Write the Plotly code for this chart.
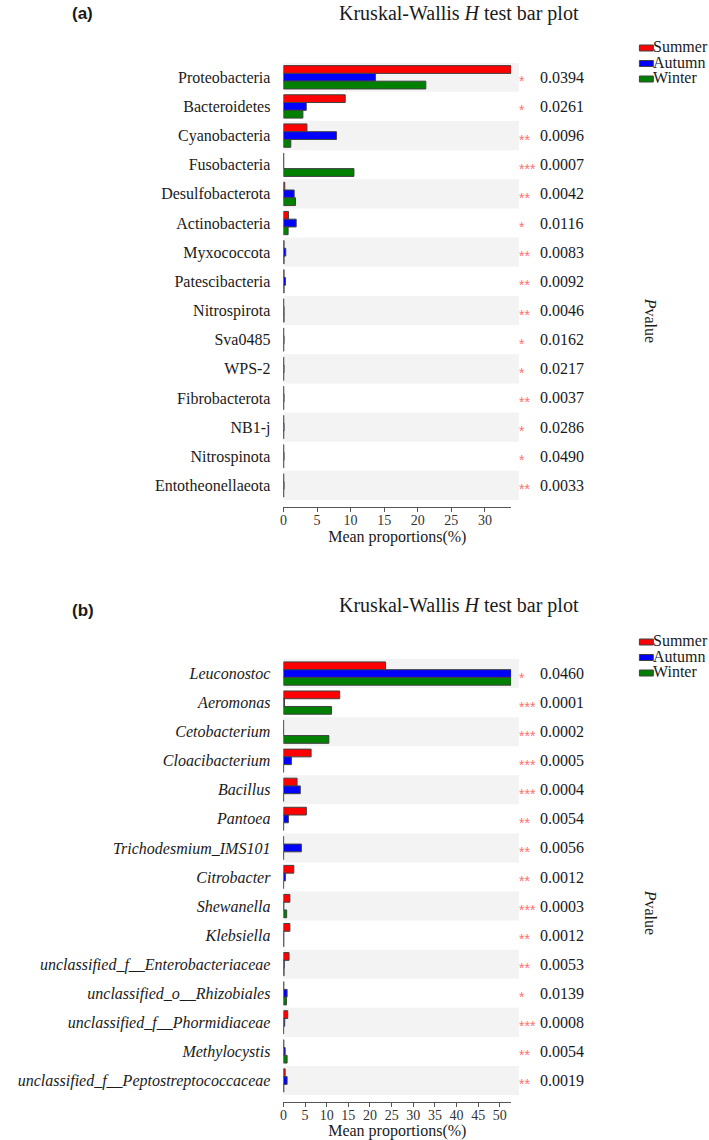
import plotly.graph_objects as go

W, H = 709, 1140

# ---------------- Panel (a) data ----------------
phyla = ["Proteobacteria", "Bacteroidetes", "Cyanobacteria", "Fusobacteria",
         "Desulfobacterota", "Actinobacteria", "Myxococcota", "Patescibacteria",
         "Nitrospirota", "Sva0485", "WPS-2", "Fibrobacterota", "NB1-j",
         "Nitrospinota", "Entotheonellaeota"]
summer_a = [33.9, 9.2, 3.5, 0.05, 0.2, 0.75, 0.1, 0.1, 0.05, 0.05, 0.05, 0.05, 0.05, 0.05, 0.05]
autumn_a = [13.7, 3.4, 7.9, 0.05, 1.6, 1.9, 0.35, 0.3, 0.1, 0.1, 0.1, 0.1, 0.1, 0.1, 0.1]
winter_a = [21.2, 2.9, 1.1, 10.5, 1.8, 0.7, 0.1, 0.1, 0.1, 0.05, 0.05, 0.05, 0.05, 0.05, 0.05]
pvals_a = ["0.0394", "0.0261", "0.0096", "0.0007", "0.0042", "0.0116", "0.0083",
           "0.0092", "0.0046", "0.0162", "0.0217", "0.0037", "0.0286", "0.0490", "0.0033"]
stars_a = ["*", "*", "**", "***", "**", "*", "**", "**", "**", "*", "*", "**", "*", "*", "**"]

# ---------------- Panel (b) data ----------------
genera = ["Leuconostoc", "Aeromonas", "Cetobacterium", "Cloacibacterium", "Bacillus",
          "Pantoea", "Trichodesmium_IMS101", "Citrobacter", "Shewanella", "Klebsiella",
          "unclassified_f__Enterobacteriaceae", "unclassified_o__Rhizobiales",
          "unclassified_f__Phormidiaceae", "Methylocystis",
          "unclassified_f__Peptostreptococcaceae"]
summer_b = [23.6, 13.0, 0.05, 6.4, 3.15, 5.3, 0.05, 2.4, 1.5, 1.5, 1.3, 0.1, 1.0, 0.1, 0.4]
autumn_b = [52.6, 0.25, 0.05, 1.85, 3.9, 1.15, 4.15, 0.45, 0.1, 0.1, 0.2, 0.85, 0.3, 0.4, 0.85]
winter_b = [52.6, 11.1, 10.5, 0.05, 0.05, 0.05, 0.05, 0.05, 0.75, 0.1, 0.15, 0.7, 0.05, 0.85, 0.1]
pvals_b = ["0.0460", "0.0001", "0.0002", "0.0005", "0.0004", "0.0054", "0.0056",
           "0.0012", "0.0003", "0.0012", "0.0053", "0.0139", "0.0008", "0.0054", "0.0019"]
stars_b = ["*", "***", "***", "***", "***", "**", "**", "**", "***", "**", "**", "*", "***", "**", "**"]

seasons = ["Summer", "Autumn", "Winter"]
colors = ["#ff0000", "#0000ff", "#008000"]

SERIF = "Liberation Serif"
SANS = "Liberation Sans"
OUTLINE = "#404040"

fig = go.Figure()

panels = [
    (phyla, [summer_a, autumn_a, winter_a], "x", "y"),
    (genera, [summer_b, autumn_b, winter_b], "x2", "y2"),
]
for cats, series, xa, ya in panels:
    for name, vals, col in zip(seasons, series, colors):
        fig.add_trace(go.Bar(
            y=cats, x=vals, name=name, orientation="h",
            marker=dict(color=col, line=dict(color=OUTLINE, width=1)),
            xaxis=xa, yaxis=ya, showlegend=False,
        ))

def px_x(p):
    return p / W

def px_y(p):
    return 1 - p / H

shapes = []
annotations = []

def add_panel_decor(cats, pvals, stars, yref, xdomref):
    for i, (c, p, s) in enumerate(zip(cats, pvals, stars)):
        if i % 2 == 0:
            shapes.append(dict(type="rect", xref=xdomref, yref=yref,
                               x0=0, x1=1.034, y0=i - 0.5, y1=i + 0.5,
                               fillcolor="#f3f3f3", line=dict(width=0), layer="below"))
        annotations.append(dict(x=px_x(516), xref="paper", y=c, yref=yref,
                                text=s, showarrow=False, xanchor="left", yanchor="middle",
                                yshift=-4, font=dict(family=SANS, size=14, color="#ff6f6f")))
        annotations.append(dict(x=px_x(537), xref="paper", y=c, yref=yref,
                                text=p, showarrow=False, xanchor="left", yanchor="middle",
                                font=dict(family=SERIF, size=16, color="#1a1a1a")))

add_panel_decor(phyla, pvals_a, stars_a, "y", "x domain")
add_panel_decor(genera, pvals_b, stars_b, "y2", "x2 domain")

# titles, panel letters, P value labels, legends
for ty, ly, lab, py, leg_top in [(13, 13, "(a)", 320, 46), (605, 610, "(b)", 912, 640)]:
    annotations.append(dict(x=px_x(458), y=px_y(ty), xref="paper", yref="paper",
                            text="Kruskal-Wallis <i>H</i> test bar plot", showarrow=False,
                            xanchor="center", yanchor="middle",
                            font=dict(family=SERIF, size=20, color="#1a1a1a")))
    annotations.append(dict(x=px_x(79), y=px_y(ly), xref="paper", yref="paper",
                            text="<b>" + lab + "</b>", showarrow=False,
                            xanchor="center", yanchor="middle",
                            font=dict(family=SANS, size=17, color="#1a1a1a")))
    annotations.append(dict(x=px_x(651), y=px_y(py), xref="paper", yref="paper",
                            text="<i>P</i>value", showarrow=False, textangle=90,
                            xanchor="center", yanchor="middle",
                            font=dict(family=SERIF, size=16, color="#1a1a1a")))
    for k, (name, col) in enumerate(zip(seasons, colors)):
        yc = leg_top + k * 15.5
        shapes.append(dict(type="rect", xref="paper", yref="paper",
                           x0=px_x(639), x1=px_x(653), y0=px_y(yc + 5), y1=px_y(yc - 1),
                           fillcolor=col, line=dict(color=OUTLINE, width=1)))
        annotations.append(dict(x=px_x(653), y=px_y(yc), xref="paper", yref="paper",
                                text=name, showarrow=False, xanchor="left", yanchor="middle",
                                xshift=-1, height=14, borderpad=0,
                                font=dict(family=SERIF, size=16, color="#1a1a1a")))

xdom = [px_x(281), px_x(510)]

def xaxis_cfg(rng, anchor):
    return dict(domain=xdom, range=rng, anchor=anchor, showline=True, linecolor="#555555",
                linewidth=1, ticks="outside", ticklen=4, tickcolor="#555555", dtick=5,
                showgrid=False, zeroline=False, ticklabelstandoff=-4,
                tickfont=dict(family=SERIF, size=14, color="#333333"),
                title=dict(text="Mean proportions(%)", standoff=2,
                           font=dict(family=SERIF, size=16, color="#1a1a1a")))

def yaxis_cfg(dom, cats, anchor, italic):
    tf = dict(family=SERIF, size=16, color="#1a1a1a")
    if italic:
        tf["style"] = "italic"
    return dict(domain=dom, anchor=anchor, type="category", categoryorder="array",
                categoryarray=cats, range=[14.74, -0.5], autorange=False,
                showline=False, ticks="", showgrid=False, zeroline=False,
                ticklabelstandoff=12, tickfont=tf)

fig.update_layout(
    width=W, height=H,
    margin=dict(l=0, r=0, t=0, b=0),
    paper_bgcolor="white", plot_bgcolor="rgba(0,0,0,0)",
    barmode="group", bargap=0.2, bargroupgap=0,
    xaxis=xaxis_cfg([0, 33.9], "y"),
    yaxis=yaxis_cfg([px_y(507), px_y(62.7)], phyla, "x", False),
    xaxis2=xaxis_cfg([0, 52.6], "y2"),
    yaxis2=yaxis_cfg([px_y(1102), px_y(659)], genera, "x2", True),
    showlegend=False,
    shapes=shapes, annotations=annotations,
)

fig.write_html(
    "out.html",
    config={"displayModeBar": False},
    post_script="document.body.style.margin='0';document.documentElement.style.overflow='hidden';document.body.style.overflow='hidden';",
)
